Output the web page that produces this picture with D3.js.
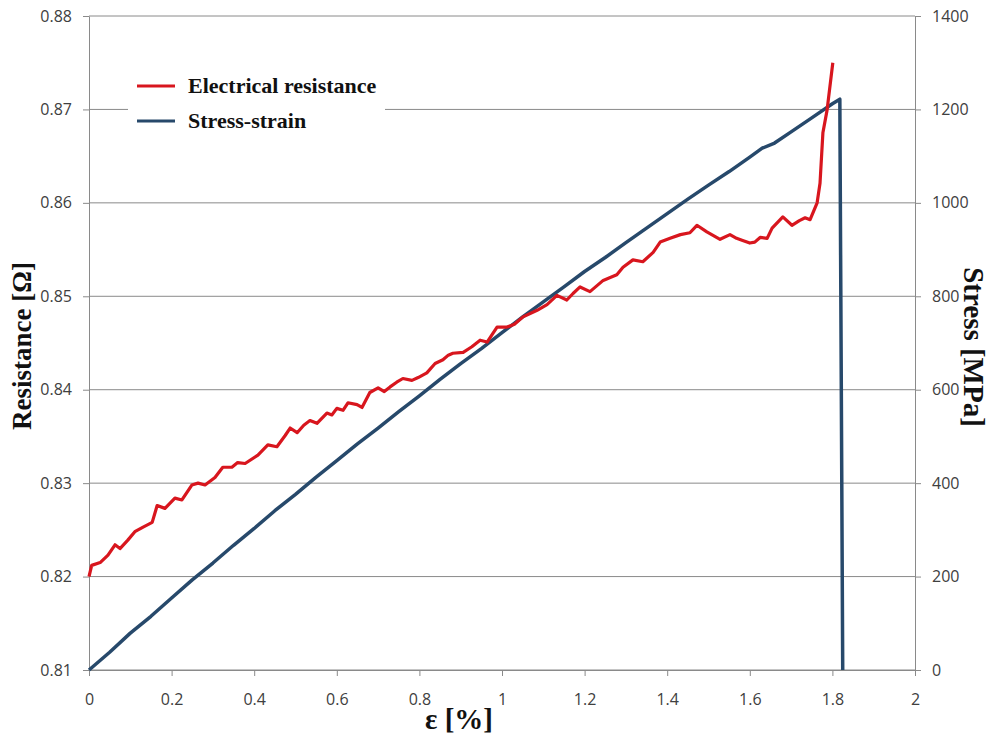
<!DOCTYPE html>
<html lang="en">
<head>
    <meta charset="UTF-8">
    <title>Resistance and stress vs strain</title>
    <script src="https://d3js.org/d3.v7.min.js"></script>
    <style>
        body { margin: 0; background: #fff; }
        .tick-label { font-family: "Open Sans", Arial, sans-serif; font-size: 16px; fill: #404040; }
        .axis-title { font-family: "Liberation Serif", "Times New Roman", serif; font-weight: bold; fill: #111; }
        .legend-text { font-family: "Liberation Serif", "Times New Roman", serif; font-weight: bold; font-size: 22px; fill: #111; }
    </style>
</head>
<body>
<div class="chart"></div>
<script>
    // Electrical resistance curve (strain %, ohm)
    const strainR = [0, 0.0065, 0.027, 0.046, 0.063, 0.075, 0.094, 0.111, 0.131, 0.153, 0.165, 0.184,
        0.208, 0.225, 0.249, 0.264, 0.281, 0.305, 0.324, 0.346, 0.36, 0.378, 0.409, 0.433, 0.455, 0.475,
        0.487, 0.504, 0.52, 0.535, 0.552, 0.576, 0.588, 0.600, 0.615, 0.627, 0.649, 0.661, 0.680, 0.700,
        0.715, 0.729, 0.745, 0.760, 0.782, 0.797, 0.818, 0.838, 0.857, 0.870, 0.881, 0.906, 0.927, 0.947,
        0.964, 0.988, 1.012, 1.030, 1.051, 1.085, 1.109, 1.133, 1.157, 1.172, 1.189, 1.213, 1.245, 1.262,
        1.278, 1.293, 1.317, 1.341, 1.366, 1.383, 1.407, 1.432, 1.455, 1.472, 1.496, 1.512, 1.528, 1.552,
        1.568, 1.581, 1.600, 1.612, 1.625, 1.642, 1.654, 1.680, 1.702, 1.720, 1.734, 1.746, 1.763, 1.770,
        1.777, 1.787, 1.801];
    const resistance = [0.8200, 0.8212, 0.8215, 0.8223, 0.8234, 0.8230, 0.8239, 0.8248, 0.8253, 0.8258,
        0.8276, 0.8273, 0.8284, 0.8282, 0.8298, 0.8300, 0.8298, 0.8306, 0.8317, 0.8317, 0.8322, 0.8321,
        0.8330, 0.8341, 0.8339, 0.8351, 0.8359, 0.8354, 0.8362, 0.8367, 0.8364, 0.8375, 0.8373, 0.8380,
        0.8378, 0.8386, 0.8384, 0.8381, 0.8397, 0.8402, 0.8398, 0.8403, 0.8408, 0.8412, 0.8410, 0.8413,
        0.8418, 0.8428, 0.8432, 0.8437, 0.8439, 0.8440, 0.8446, 0.8453, 0.8451, 0.8467, 0.8467, 0.8470,
        0.8478, 0.8485, 0.8491, 0.8501, 0.8496, 0.8503, 0.8510, 0.8505, 0.8517, 0.8520, 0.8523, 0.8531,
        0.8539, 0.8537, 0.8547, 0.8558, 0.8562, 0.8566, 0.8568, 0.8576, 0.8569, 0.8565, 0.8561, 0.8566,
        0.8562, 0.8560, 0.8557, 0.8558, 0.8563, 0.8562, 0.8573, 0.8585, 0.8576, 0.8581, 0.8584, 0.8582,
        0.8600, 0.8621, 0.8675, 0.8699, 0.8750];

    // Stress-strain curve (strain %, MPa)
    const strainS = [0, 0.05, 0.1, 0.15, 0.2, 0.25, 0.3, 0.35, 0.4, 0.45, 0.5, 0.55, 0.6, 0.65, 0.7,
        0.75, 0.8, 0.85, 0.9, 0.95, 1.0, 1.05, 1.1, 1.15, 1.2, 1.25, 1.3, 1.35, 1.4, 1.45, 1.5, 1.55,
        1.6, 1.63, 1.66, 1.7, 1.75, 1.8, 1.818, 1.825];
    const stress = [0, 38, 79, 115, 154, 193, 229, 267, 303, 341, 376, 413, 448, 484, 518,
        553, 587, 622, 656, 688, 722, 756, 788, 820, 853, 883, 915, 946, 977, 1008, 1038, 1067,
        1098, 1117, 1128, 1152, 1182, 1212, 1222, 0];

    const xTicks = [0, 0.2, 0.4, 0.6, 0.8, 1, 1.2, 1.4, 1.6, 1.8, 2];
    const rTicks = [0.81, 0.82, 0.83, 0.84, 0.85, 0.86, 0.87, 0.88];
    const sTicks = [0, 200, 400, 600, 800, 1000, 1200, 1400];

    const seriesNames = ["Electrical resistance", "Stress-strain"];
    const colors = ["#d8161e", "#27496b"];

    const W = 992, H = 737;
    const plot = { left: 89, right: 915, top: 16, bottom: 670 };

    const svg = d3.select(".chart").append("svg")
        .attr("width", W).attr("height", H);

    const x = d3.scaleLinear().domain([0, 2]).range([plot.left, plot.right]);
    const yR = d3.scaleLinear().domain([0.81, 0.88]).range([plot.bottom, plot.top]);
    const yS = d3.scaleLinear().domain([0, 1400]).range([plot.bottom, plot.top]);

    const gridColor = "#8a8a8a";

    // horizontal gridlines
    svg.append("g").selectAll("line").data(rTicks).join("line")
        .attr("x1", plot.left).attr("x2", plot.right)
        .attr("y1", d => yR(d)).attr("y2", d => yR(d))
        .attr("stroke", gridColor).attr("stroke-width", 1);

    // axes
    const styleAxis = g => {
        g.select(".domain").attr("stroke", gridColor);
        g.selectAll(".tick line").attr("stroke", gridColor);
        g.selectAll(".tick text").attr("class", "tick-label").attr("fill", null);
    };

    svg.append("g")
        .attr("transform", `translate(${plot.left},0)`)
        .call(d3.axisLeft(yR).tickValues(rTicks).tickFormat(d3.format(".2f")).tickSize(6).tickSizeOuter(0).tickPadding(11))
        .call(styleAxis);

    svg.append("g")
        .attr("transform", `translate(${plot.right},0)`)
        .call(d3.axisRight(yS).tickValues(sTicks).tickFormat(d3.format("d")).tickSize(6).tickSizeOuter(0).tickPadding(11))
        .call(styleAxis);

    svg.append("g")
        .attr("transform", `translate(0,${plot.bottom})`)
        .call(d3.axisBottom(x).tickValues(xTicks).tickFormat(d3.format("~g")).tickSize(6).tickSizeOuter(0).tickPadding(18))
        .call(styleAxis);

    // lines
    const lineR = d3.line().x(d => x(d[0])).y(d => yR(d[1]));
    const lineS = d3.line().x(d => x(d[0])).y(d => yS(d[1]));

    svg.append("path")
        .datum(d3.zip(strainS, stress))
        .attr("fill", "none").attr("stroke", colors[1]).attr("stroke-width", 3.5)
        .attr("stroke-linejoin", "round")
        .attr("d", lineS);

    svg.append("path")
        .datum(d3.zip(strainR, resistance))
        .attr("fill", "none").attr("stroke", colors[0]).attr("stroke-width", 3.2)
        .attr("stroke-linejoin", "round")
        .attr("d", lineR);

    // legend
    const legend = svg.append("g").attr("transform", "translate(128,66)");
    legend.append("rect").attr("width", 257).attr("height", 74).attr("fill", "#fff");
    seriesNames.forEach((name, i) => {
        const yy = 20 + i * 35;
        legend.append("line")
            .attr("x1", 9).attr("x2", 47).attr("y1", yy).attr("y2", yy)
            .attr("stroke", colors[i]).attr("stroke-width", 3);
        legend.append("text").attr("class", "legend-text")
            .attr("x", 60).attr("y", yy + 7).text(name);
    });

    // axis titles
    svg.append("text").attr("class", "axis-title")
        .attr("transform", "translate(31,346) rotate(-90)")
        .attr("text-anchor", "middle").style("font-size", "27px")
        .text("Resistance [Ω]");

    svg.append("text").attr("class", "axis-title")
        .attr("transform", "translate(964,347) rotate(90)")
        .attr("text-anchor", "middle").style("font-size", "29px")
        .text("Stress [MPa]");

    svg.append("text").attr("class", "axis-title")
        .attr("x", 459).attr("y", 729)
        .attr("text-anchor", "middle").style("font-size", "29px")
        .text("ε [%]");
</script>
</body>
</html>
